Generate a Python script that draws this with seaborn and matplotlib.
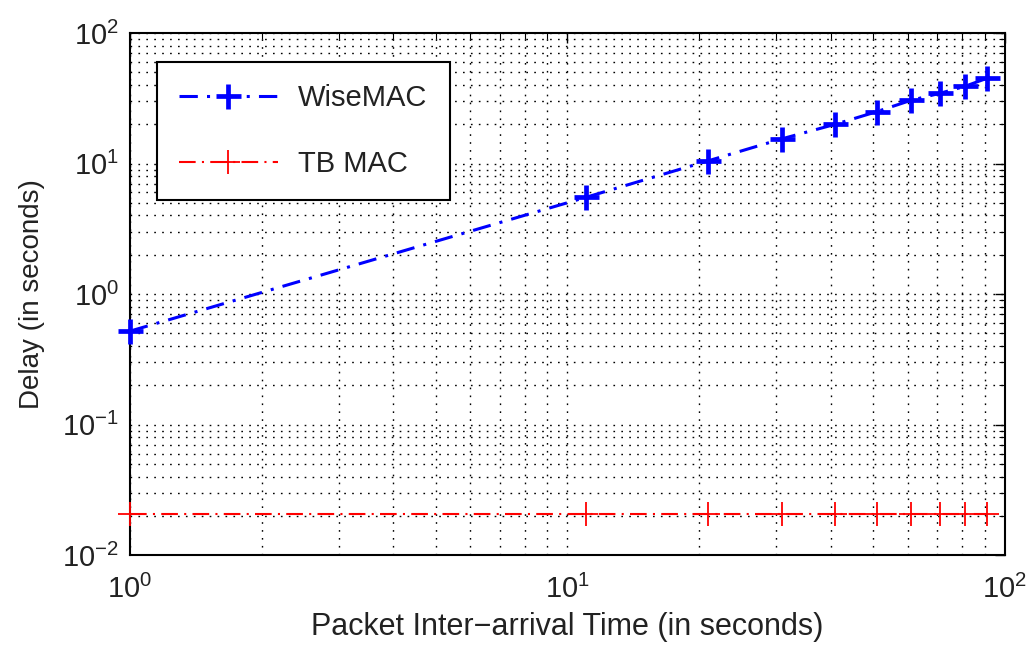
import matplotlib

matplotlib.use("Agg")

import matplotlib.pyplot as plt
import pandas as pd
import seaborn as sns
from matplotlib.ticker import LogLocator, NullFormatter

# Data
inter_arrival = [1, 11, 21, 31, 41, 51, 61, 71, 81, 91]
wisemac_delay = [0.52, 5.5, 10.5, 15.5, 20, 25, 30.5, 34.5, 39, 45]
tbmac_delay = [0.0205] * len(inter_arrival)

x_ticks = [1, 10, 100]
y_ticks = [0.01, 0.1, 1, 10, 100]

sns.set_style("white")
plt.rcParams["font.family"] = ["Liberation Sans", "DejaVu Sans"]
plt.rcParams["mathtext.default"] = "regular"

df = pd.DataFrame({"x": inter_arrival, "wise": wisemac_delay, "tb": tbmac_delay})

fig = plt.figure(figsize=(10.28, 6.47), dpi=100)
ax = fig.add_axes([0.1265, 0.142, 0.851, 0.807])

sns.lineplot(data=df, x="x", y="wise", ax=ax, color="#0000ff", marker="+",
             markersize=18, markeredgewidth=3.4, markeredgecolor="#0000ff",
             linewidth=2.2, dashes=(6, 3, 1, 3), label="WiseMAC", clip_on=False, zorder=5)
sns.lineplot(data=df, x="x", y="tb", ax=ax, color="#ff0000", marker="+",
             markersize=17, markeredgewidth=1.3, markeredgecolor="#ff0000",
             linewidth=1.5, dashes=(8, 3, 1, 3), label="TB MAC", clip_on=False, zorder=5)

ax.set_xscale("log")
ax.set_yscale("log")
ax.set_xlim(1, 100)
ax.set_ylim(0.01, 100)
ax.set_xticks(x_ticks)
ax.set_yticks(y_ticks)
ax.set_xticklabels([r"$10^{%d}$" % i for i in range(0, 3)])
ax.set_yticklabels([r"$10^{%d}$" % i for i in range(-2, 3)])
ax.xaxis.set_minor_locator(LogLocator(base=10, subs=range(2, 10)))
ax.yaxis.set_minor_locator(LogLocator(base=10, subs=range(2, 10)))
ax.xaxis.set_minor_formatter(NullFormatter())
ax.yaxis.set_minor_formatter(NullFormatter())

ax.grid(True, which="both", color="black", linestyle=(0, (1.2, 4.5)), linewidth=1.0)
ax.tick_params(which="both", direction="in", top=True, right=True, colors="black",
               labelcolor="#222222", labelsize=21)
ax.tick_params(which="major", length=7, width=1)
ax.tick_params(which="minor", length=4, width=0.8)
ax.tick_params(axis="x", pad=14)
ax.tick_params(axis="y", pad=8)
for sp in ax.spines.values():
    sp.set_color("black")
    sp.set_linewidth(1.5)

ax.set_xlabel("Packet Inter\u2212arrival Time (in seconds)", fontsize=22, color="#222222", labelpad=6)
ax.set_ylabel("Delay (in seconds)", fontsize=20, color="#222222", labelpad=12)

leg = ax.legend(loc="upper left", bbox_to_anchor=(0.014, 0.972), fontsize=21,
                handlelength=3.4, labelspacing=1.3, borderpad=0.75,
                handletextpad=0.7, fancybox=False, framealpha=1)
leg.get_frame().set_edgecolor("black")
leg.get_frame().set_linewidth(1.5)
for t in leg.get_texts():
    t.set_color("#222222")

plt.savefig("out.png", dpi=100)
plt.close()
